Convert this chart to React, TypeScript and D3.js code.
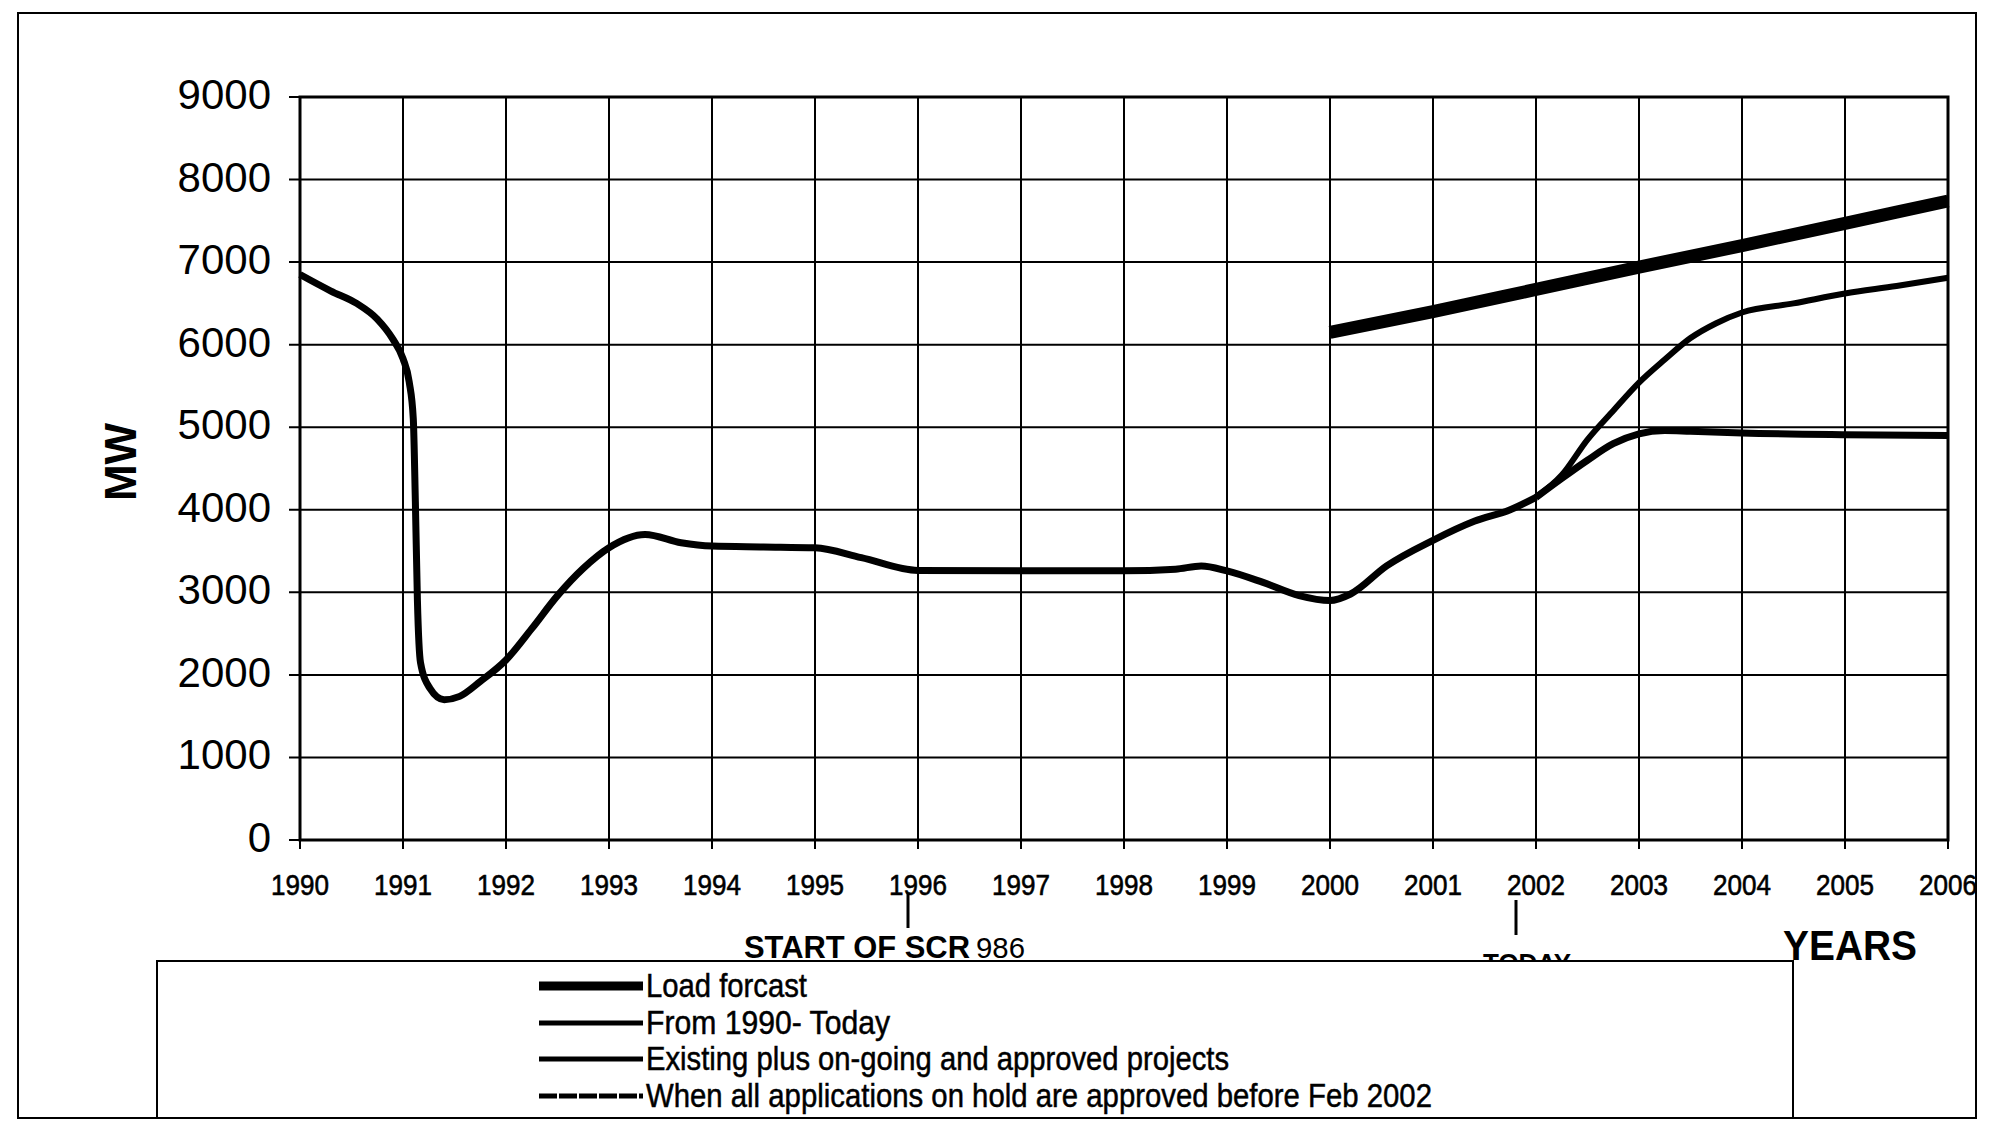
import React from "react";
import * as d3 from "d3";

// ---- data ----
const yearTicks = [1990, 1991, 1992, 1993, 1994, 1995, 1996, 1997, 1998, 1999, 2000, 2001, 2002, 2003, 2004, 2005, 2006];
const mwTicks = [0, 1000, 2000, 3000, 4000, 5000, 6000, 7000, 8000, 9000];

const historyYears = [1990, 1990.3, 1990.55, 1990.75, 1990.9, 1991.0, 1991.06, 1991.1, 1991.12, 1991.14, 1991.17, 1991.26, 1991.4, 1991.55, 1991.75, 1992.0, 1992.25, 1992.5, 1992.75, 1993.0, 1993.35, 1993.7, 1994.0, 1994.5, 1995.0, 1995.45, 1996.0, 1997.0, 1998.0, 1998.5, 1998.75, 1999.0, 1999.35, 1999.7, 2000.0, 2000.2, 2000.55, 2001.0, 2001.4, 2001.75, 2002.0];
const historyMW = [6850, 6650, 6500, 6310, 6070, 5830, 5550, 5100, 4100, 2900, 2150, 1840, 1700, 1740, 1920, 2180, 2560, 2960, 3290, 3540, 3700, 3600, 3560, 3550, 3540, 3420, 3265, 3260, 3260, 3280, 3320, 3260, 3120, 2960, 2900, 2980, 3320, 3630, 3860, 4000, 4150];

const loadYears = [2000, 2001, 2002, 2003, 2004, 2005, 2006];
const loadMW = [6150, 6400, 6670, 6940, 7200, 7470, 7740];

const onHoldYears = [2002, 2002.25, 2002.5, 2002.75, 2003, 2003.25, 2003.5, 2003.75, 2004, 2004.5, 2005, 2005.5, 2006];
const onHoldMW = [4150, 4420, 4850, 5200, 5540, 5820, 6080, 6260, 6390, 6500, 6620, 6710, 6810];

const existingYears = [2002, 2002.25, 2002.5, 2002.75, 2003, 2003.25, 2003.5, 2004, 2005, 2006];
const existingMW = [4150, 4380, 4600, 4800, 4920, 4960, 4950, 4930, 4910, 4900];

const legendLabels = [
  "Load forcast",
  "From 1990- Today",
  "Existing plus on-going and approved projects",
  "When all applications on hold are approved  before Feb 2002",
];

const FONT = "'Liberation Sans', Arial, sans-serif";

export default function App() {
  const W = 1989, H = 1133;
  const x = d3.scaleLinear().domain([1990, 2006]).range([300, 1948]);
  const y = d3.scaleLinear().domain([0, 9000]).range([840, 97]);
  const line = d3
    .line<[number, number]>()
    .x((d) => x(d[0]))
    .y((d) => y(d[1]))
    .curve(d3.curveMonotoneX);
  const zip = (a: number[], b: number[]) => a.map((v, i) => [v, b[i]] as [number, number]);

  const legendX0 = 539, legendX1 = 643, legendTextX = 646;
  const legendBaselines = [997, 1034, 1070, 1107];
  const legendWidths = [9, 5, 5, 5];
  const legendTextLen = [161, 244, 583, 786];

  return (
    <svg width={W} height={H} style={{ position: "absolute", left: 0, top: 0, background: "#fff" }} fontFamily={FONT}>
      <rect x={0} y={0} width={W} height={H} fill="#fff" />
      {/* outer frame */}
      <rect x={18} y={13} width={1958} height={1105} fill="none" stroke="#000" strokeWidth={2} />

      {/* grid */}
      {yearTicks.map((t) => (
        <line key={"vx" + t} x1={x(t)} x2={x(t)} y1={y(9000)} y2={y(0) + 9} stroke="#000" strokeWidth={2} />
      ))}
      {mwTicks.map((t) => (
        <line key={"hy" + t} x1={x(1990) - 11} x2={x(2006)} y1={y(t)} y2={y(t)} stroke="#000" strokeWidth={2} />
      ))}
      <rect x={x(1990)} y={y(9000)} width={x(2006) - x(1990)} height={y(0) - y(9000)} fill="none" stroke="#000" strokeWidth={3} />

      {/* y labels */}
      {mwTicks.map((t) => (
        <text key={"yl" + t} x={271} y={y(t) + 12} textAnchor="end" fontSize={42} fill="#000">
          {t}
        </text>
      ))}
      {/* x labels */}
      {yearTicks.map((t) => (
        <text key={"xl" + t} x={x(t)} y={895} textAnchor="middle" fontSize={30} fill="#000" stroke="#000" strokeWidth={0.6} textLength={58} lengthAdjust="spacingAndGlyphs">
          {t}
        </text>
      ))}

      {/* axis titles */}
      <text transform={`translate(136,462) rotate(-90)`} textAnchor="middle" fontSize={44} fontWeight="bold" fill="#000">
        MW
      </text>
      <text x={1783} y={960} fontSize={43} fontWeight="bold" fill="#000" textLength={134} lengthAdjust="spacingAndGlyphs">
        YEARS
      </text>

      {/* series */}
      <path d={line(zip(historyYears, historyMW)) || ""} fill="none" stroke="#000" strokeWidth={7} strokeLinejoin="round" />
      <path d={line(zip(existingYears, existingMW)) || ""} fill="none" stroke="#000" strokeWidth={7} strokeLinejoin="round" />
      <path d={line(zip(onHoldYears, onHoldMW)) || ""} fill="none" stroke="#000" strokeWidth={6} strokeLinejoin="round" />
      <path d={line(zip(loadYears, loadMW)) || ""} fill="none" stroke="#000" strokeWidth={13} strokeLinejoin="round" />

      {/* annotations */}
      <line x1={908} x2={908} y1={893} y2={928} stroke="#000" strokeWidth={3} />
      <text x={744} y={958} fontSize={32} fontWeight="bold" fill="#000" textLength={226} lengthAdjust="spacingAndGlyphs">
        START OF SCR
      </text>
      <text x={976} y={958} fontSize={30} fill="#000" textLength={49} lengthAdjust="spacingAndGlyphs">
        986
      </text>
      <line x1={1516} x2={1516} y1={900} y2={935} stroke="#000" strokeWidth={3} />
      <text x={1483} y={972} fontSize={26} fontWeight="bold" fill="#000" textLength={88} lengthAdjust="spacingAndGlyphs">
        TODAY
      </text>

      {/* legend box */}
      <rect x={157} y={961} width={1636} height={157} fill="#fff" stroke="#000" strokeWidth={2} />
      {legendLabels.map((lab, i) => (
        <g key={lab}>
          <line
            x1={legendX0}
            x2={legendX1}
            y1={legendBaselines[i] - 11}
            y2={legendBaselines[i] - 11}
            stroke="#000"
            strokeWidth={legendWidths[i]}
            strokeDasharray={i === 3 ? "18 2" : undefined}
          />
          <text x={legendTextX} y={legendBaselines[i]} fontSize={33} fill="#000" stroke="#000" strokeWidth={0.5} textLength={legendTextLen[i]} lengthAdjust="spacingAndGlyphs">
            {lab}
          </text>
        </g>
      ))}
    </svg>
  );
}
